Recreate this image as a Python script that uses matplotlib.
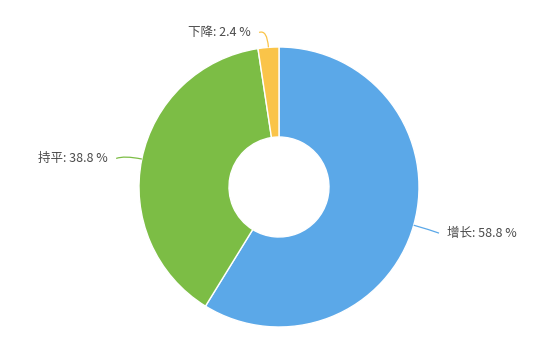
import numpy as np
import matplotlib.pyplot as plt
from matplotlib.path import Path
from matplotlib.patches import PathPatch

plt.rcParams['font.family'] = ['Noto Sans CJK SC', 'DejaVu Sans']

labels = ['增长', '持平', '下降']
values = [58.8, 38.8, 2.4]
colors = ['#5ba8e8', '#7cbd45', '#fac449']

W, H = 548, 362
cx, cy = 279, 175
R, r_in = 140, 50

fig = plt.figure(figsize=(W / 100, H / 100), dpi=100)
ax = fig.add_axes([0, 0, 1, 1])
ax.pie(values, colors=colors, startangle=90, counterclock=False,
       center=(cx, cy), radius=R,
       wedgeprops=dict(width=R - r_in, edgecolor='white', linewidth=1))
ax.set_xlim(0, W)
ax.set_ylim(0, H)
ax.set_aspect('equal')
ax.axis('off')

# leader lines + labels
start = 0.0
total = sum(values)
for lab, v, c in zip(labels, values, colors):
    mid = start + v / 2
    start += v
    ang = np.deg2rad(90 - mid / total * 360)
    p0 = (cx + R * np.cos(ang), cy + R * np.sin(ang))
    p1 = (cx + (R + 18) * np.cos(ang), cy + (R + 18) * np.sin(ang))
    side = 1 if np.cos(ang) > 0.05 else -1
    p2 = (p1[0] + side * 8, p1[1] - 3)
    path = Path([p0, p1, p2], [Path.MOVETO, Path.CURVE3, Path.CURVE3])
    ax.add_patch(PathPatch(path, facecolor='none', edgecolor=c, linewidth=0.9))
    ax.text(p2[0] + side * 8, p2[1], f'{lab}: {v} %',
            ha='left' if side > 0 else 'right', va='center',
            fontsize=9, color='#4a4a4a')

fig.savefig('out.png', dpi=100)
